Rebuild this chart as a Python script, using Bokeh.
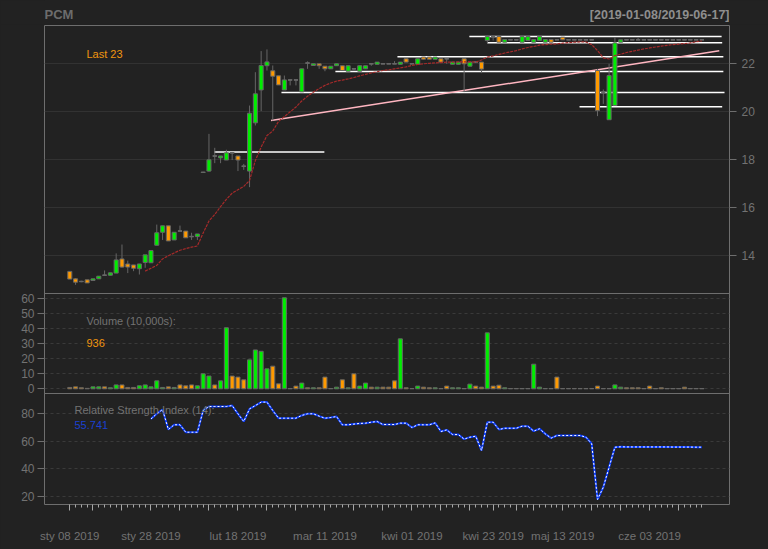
from bokeh.plotting import figure
from bokeh.models import Range1d, FixedTicker, Label, LinearAxis, Grid, ColumnDataSource, Span
from bokeh.layouts import column
from bokeh.embed import file_html
from bokeh.resources import INLINE

# ---------------- data ----------------
symbol = "PCM"
date_range = "[2019-01-08/2019-06-17]"

opens = [13.35, 13.04, 12.93, 13.00, 12.97, 13.04, 13.19, 13.19, 13.28, 13.87,
         13.66, 13.62, 13.46, 13.72, 13.71, 14.44, 14.98, 15.25, 14.66, 15.03,
         15.03, 14.80, 14.80, 17.47, 17.53, 18.16, 18.08, 17.99, 18.29, 18.16,
         17.73, 17.53, 19.54, 20.91, 21.92, 21.71, 21.50, 20.91, 21.33, 21.33,
         20.83, 22.03, 21.93, 22.00, 21.90, 21.79, 21.92, 21.92, 21.69, 21.79,
         21.69, 21.79, 22.00, 21.98, 22.00, 22.00, 22.00, 21.98, 22.21, 22.00,
         21.98, 22.28, 22.28, 22.19, 22.21, 22.21, 21.98, 21.98, 22.21, 21.90,
         22.07, 22.07, 22.97, 23.14, 23.14, 22.90, 23.00, 23.00, 22.90, 22.97,
         22.90, 22.97, 22.90, 23.01, 23.00, 23.11, 23.00, 23.00, 23.00, 23.00,
         23.00, 21.72, 20.82, 19.67, 20.26, 22.90, 23.00, 23.00, 23.00, 23.00,
         23.00, 23.00, 23.00, 23.00, 23.00, 23.00, 23.00, 23.00, 23.00, 23.00]
highs = [13.35, 13.07, 12.96, 13.00, 13.04, 13.15, 13.39, 13.29, 14.10, 14.47,
         13.80, 13.62, 13.66, 14.04, 14.22, 15.30, 15.25, 15.25, 14.98, 15.26,
         15.03, 14.96, 14.91, 17.50, 19.08, 18.50, 18.16, 18.42, 18.29, 18.16,
         17.83, 20.26, 21.65, 22.53, 22.60, 21.93, 21.50, 21.51, 21.33, 21.33,
         21.79, 22.10, 22.00, 22.00, 21.90, 21.90, 22.00, 21.92, 21.92, 21.79,
         21.92, 21.92, 22.00, 22.07, 22.00, 22.00, 22.11, 22.07, 22.21, 22.00,
         22.21, 22.28, 22.28, 22.28, 22.21, 22.21, 22.07, 22.07, 22.21, 22.07,
         22.07, 22.07, 23.18, 23.18, 23.14, 23.01, 23.00, 23.00, 23.14, 23.14,
         23.01, 23.14, 23.01, 23.01, 23.00, 23.11, 23.00, 23.00, 23.00, 23.00,
         23.00, 21.79, 20.93, 22.00, 23.11, 23.00, 23.00, 23.00, 23.08, 23.00,
         23.00, 23.00, 23.00, 23.00, 23.00, 23.00, 23.00, 23.00, 23.00, 23.00]
lows = [13.03, 12.79, 12.90, 12.87, 12.97, 13.04, 13.19, 13.19, 13.28, 13.50,
        13.28, 13.36, 13.22, 13.50, 13.71, 14.44, 14.66, 14.62, 14.66, 15.03,
        14.75, 14.66, 14.66, 17.45, 17.50, 17.86, 17.86, 17.99, 17.99, 17.53,
        17.58, 16.86, 19.43, 20.03, 21.72, 19.64, 21.12, 20.91, 21.10, 21.10,
        20.83, 21.79, 21.93, 21.79, 21.69, 21.79, 21.92, 21.72, 21.69, 21.72,
        21.69, 21.79, 21.92, 21.98, 22.00, 22.00, 22.00, 21.98, 22.07, 22.00,
        21.98, 22.19, 22.19, 22.19, 22.07, 22.00, 21.98, 21.98, 20.82, 21.90,
        22.07, 21.61, 22.87, 22.97, 22.90, 22.90, 23.00, 23.00, 22.90, 22.97,
        22.90, 22.97, 22.90, 22.90, 23.00, 23.00, 23.00, 23.00, 23.00, 23.00,
        23.00, 19.82, 20.33, 19.67, 20.26, 22.90, 23.00, 23.00, 23.00, 23.00,
        23.00, 23.00, 23.00, 23.00, 23.00, 23.00, 23.00, 23.00, 23.00, 23.00]
closes = [13.03, 12.90, 12.93, 12.87, 13.04, 13.15, 13.19, 13.29, 13.83, 13.53,
          13.53, 13.48, 13.66, 14.04, 14.22, 14.96, 15.25, 14.62, 14.98, 15.03,
          14.75, 14.80, 14.91, 17.49, 18.00, 18.16, 18.16, 18.29, 18.29, 17.99,
          17.73, 19.94, 20.75, 21.93, 22.08, 21.48, 21.12, 21.33, 21.33, 21.33,
          21.79, 22.03, 22.00, 21.92, 21.79, 21.90, 22.00, 21.72, 21.92, 21.79,
          21.92, 21.92, 22.00, 22.07, 22.00, 22.00, 22.00, 22.07, 22.07, 22.00,
          22.21, 22.19, 22.19, 22.28, 22.07, 22.21, 22.07, 22.07, 22.00, 22.07,
          22.07, 21.78, 23.14, 23.14, 22.90, 23.01, 23.00, 23.00, 23.14, 23.14,
          23.01, 23.14, 23.01, 22.90, 23.00, 23.00, 23.00, 23.00, 23.00, 23.00,
          23.00, 20.05, 20.82, 21.51, 22.87, 23.00, 23.00, 23.00, 23.00, 23.00,
          23.00, 23.00, 23.00, 23.00, 23.00, 23.00, 23.00, 23.00, 23.00, 23.00]
# volume in units of 10,000
volume = [0.9, 1.3, 0.7, 0.3, 1.3, 1.3, 1.3, 0.7, 2.6, 2.6,
          0.9, 0.9, 2.0, 2.6, 1.3, 5.3, 0.9, 1.3, 0.9, 2.6,
          2.0, 2.6, 2.0, 10.0, 8.5, 2.6, 5.3, 40.7, 8.5, 7.8,
          6.0, 19.3, 25.9, 25.0, 13.3, 15.1, 3.3, 60.7, 0.2, 1.8,
          3.8, 0.7, 0.7, 0.7, 7.8, 0.2, 1.1, 6.0, 0.7, 10.0,
          1.8, 3.8, 1.1, 1.1, 1.1, 1.1, 5.3, 33.3, 0.7, 0.2,
          1.8, 1.1, 0.7, 0.7, 0.2, 1.8, 0.7, 0.7, 0.2, 3.1,
          1.8, 1.1, 37.3, 1.8, 2.4, 0.7, 0.2, 0.2, 0.2, 0.2,
          16.4, 1.1, 0.2, 0.2, 7.8, 0.2, 0.2, 0.2, 0.2, 0.2,
          0.2, 1.8, 0.2, 0.2, 2.6, 1.1, 0.7, 0.7, 0.7, 0.2,
          1.8, 0.2, 0.7, 0.2, 0.2, 0.2, 1.1, 0.2, 0.2, 0.2]
# moving average (starts at bar 13)
ma_start = 13
ma_values = [13.36, 13.48, 13.60, 13.87, 14.00, 14.12, 14.23, 14.30, 14.36, 14.41,
             14.95, 15.45, 15.72, 16.05, 16.35, 16.61, 16.75, 16.89, 17.14, 17.97,
             18.53, 19.01, 19.20, 19.60, 19.80, 20.00, 20.20, 20.45, 20.65, 20.82,
             20.97, 21.10, 21.20, 21.28, 21.32, 21.37, 21.43, 21.50, 21.56, 21.62,
             21.67, 21.72, 21.75, 21.79, 21.83, 21.87, 21.93, 21.97, 22.00, 22.02,
             22.04, 22.05, 22.07, 22.07, 22.08, 22.08, 22.08, 22.07, 22.16, 22.28,
             22.33, 22.39, 22.45, 22.50, 22.55, 22.62, 22.68, 22.72, 22.78, 22.80,
             22.82, 22.83, 22.86, 22.88, 22.90, 22.91, 22.91, 22.80, 22.55, 22.25,
             22.20, 22.34, 22.40, 22.47, 22.52, 22.57, 22.62, 22.66, 22.70, 22.74,
             22.77, 22.80, 22.82, 22.84, 22.87, 22.92, 22.95]
# RSI(14) (starts at bar 14)
rsi_start = 14
rsi_values = [76.3, 80.0, 83.1, 68.6, 72.0, 72.0, 66.6, 66.6, 66.6, 82.4,
              85.3, 85.3, 85.3, 85.3, 86.0, 80.0, 74.4, 83.6, 86.0, 88.5,
              88.5, 82.4, 76.8, 76.8, 76.8, 76.8, 78.8, 80.0, 80.0, 78.3,
              76.8, 77.3, 78.0, 72.0, 72.0, 72.5, 73.0, 73.2, 73.9, 74.4,
              72.2, 72.2, 72.2, 73.2, 73.2, 70.0, 72.0, 72.0, 72.0, 73.4,
              67.1, 68.3, 64.9, 64.9, 61.6, 63.0, 63.7, 53.3, 73.9, 73.9,
              68.6, 69.5, 69.5, 69.5, 71.0, 71.0, 67.4, 69.1, 65.4, 62.3,
              64.2, 64.2, 64.2, 64.2, 64.2, 63.0, 58.2, 17.7, 26.6, 41.2,
              55.7, 56.0, 55.9, 55.9, 55.9, 55.9, 55.9, 55.9, 55.9, 55.9,
              55.8, 55.8, 55.8, 55.8, 55.74, 55.74]
# drawn trend line (bar index, price) and horizontal levels (from bar, to bar, price)
trend_x = [34.7, 112.0]
trend_y = [19.64, 22.54]
level_from = [24.9, 36.5, 45.8, 56.5, 68.9, 72.0, 87.9]
level_to = [43.9, 112.9, 112.7, 112.7, 112.4, 112.5, 112.5]
level_price = [18.33, 20.80, 21.68, 22.29, 23.14, 22.875, 20.21]
# x axis
tick_idx = [0, 14, 29, 44, 59, 73, 85, 100]
tick_labels = ["sty 08 2019", "sty 28 2019", "lut 18 2019", "mar 11 2019",
               "kwi 01 2019", "kwi 23 2019", "maj 13 2019", "cze 03 2019"]
week_starts = [0, 4, 9, 14, 19, 24, 29, 34, 39, 44, 49, 54, 59, 64, 69, 73, 77,
               80, 85, 90, 95, 100, 105]
price_ticks = [14, 16, 18, 20, 22]
vol_ticks = [0, 10, 20, 30, 40, 50, 60]
rsi_ticks = [20, 40, 60, 80]
last_close_text = "Last 23"
last_volume_text = "936"
last_rsi_text = "55.741"

# ---------------- layout (pixels, page coordinates) ----------------
W, H = 768, 549
HEAD = 24
FL, FR, FT, FB = 44, 729, 25, 504          # plotting frame
SEP1, SEP2 = 293, 393                       # panel separators
PRICE_REF_PX, PRICE_REF, PRICE_PPU = 63.3, 22.0, 24.0
VOL_REF_PX, VOL_PPU = 388.3, 1.5
RSI_REF_PX, RSI_REF, RSI_PPU = 413.3, 80.0, 1.375

BG = "#222222"
FRAME = "#6e6e6e"
TXT = "#727272"
UP = "#00EE00"
DN = "#FF9A00"
WICK = "#666666"
ORANGE_TXT = "#F0960F"
FONT = "Liberation Sans"
BGSTYLE = {"background-color": BG}

n = len(closes)
idx = list(range(n))
x_range = Range1d(-4.36, 113.76)


def px_to(ref_px, ref_val, ppu, px):
    return ref_val - (px - ref_px) / ppu


price_range = Range1d(px_to(PRICE_REF_PX, PRICE_REF, PRICE_PPU, FB),
                      px_to(PRICE_REF_PX, PRICE_REF, PRICE_PPU, FT))
vol_range = Range1d(px_to(VOL_REF_PX, 0.0, VOL_PPU, FB),
                    px_to(VOL_REF_PX, 0.0, VOL_PPU, FT))
rsi_range = Range1d(px_to(RSI_REF_PX, RSI_REF, RSI_PPU, FB),
                    px_to(RSI_REF_PX, RSI_REF, RSI_PPU, FT))

# ---------- header (same horizontal geometry as the chart) ----------
head = figure(frame_width=FR - FL, frame_height=HEAD, x_range=Range1d(0, 1),
              y_range=Range1d(0, 1),
              min_border_left=FL, min_border_right=W - FR,
              min_border_top=0, min_border_bottom=0,
              output_backend="svg", toolbar_location=None,
              background_fill_color=BG, border_fill_color=BG,
              outline_line_color=None, x_axis_location=None, y_axis_location=None,
              styles=BGSTYLE)
head.grid.visible = False
head.add_layout(Label(x=0, y=HEAD - 14, x_units="screen", y_units="screen", text=symbol,
                      text_color="#6c6c6c", text_font=FONT, text_font_size="13px",
                      text_font_style="bold", text_align="left", text_baseline="middle"))
head.add_layout(Label(x=FR - FL, y=HEAD - 14, x_units="screen", y_units="screen",
                      text=date_range, text_color="#8e8e8e", text_font=FONT,
                      text_font_size="12.5px", text_font_style="bold",
                      text_align="right", text_baseline="middle"))

# ---------- main chart ----------
p = figure(frame_width=FR - FL, frame_height=FB - FT, x_range=x_range, y_range=price_range,
           min_border_left=FL, min_border_right=W - FR,
           min_border_top=FT - HEAD, min_border_bottom=H - FB,
           output_backend="svg", toolbar_location=None,
           background_fill_color=BG, border_fill_color=BG,
           outline_line_color=FRAME, outline_line_width=1,
           x_axis_location=None, y_axis_location=None, styles=BGSTYLE)
p.grid.visible = False
p.extra_y_ranges = {"vol": vol_range, "rsi": rsi_range}

# grids
p.add_layout(Grid(dimension=1, ticker=FixedTicker(ticks=price_ticks),
                  grid_line_color="#323232", grid_line_width=1))
p.add_layout(Grid(dimension=1, y_range_name="vol", ticker=FixedTicker(ticks=vol_ticks),
                  grid_line_color="#3a3a3a", grid_line_dash="3 3"))
p.add_layout(Grid(dimension=1, y_range_name="rsi", ticker=FixedTicker(ticks=rsi_ticks),
                  grid_line_color="#3a3a3a", grid_line_dash="3 3"))

# panel separators
for sep in (SEP1, SEP2):
    p.add_layout(Span(location=px_to(PRICE_REF_PX, PRICE_REF, PRICE_PPU, sep),
                      dimension="width", line_color=FRAME, line_width=1))

# price axis (right)
ax_r = LinearAxis(ticker=FixedTicker(ticks=price_ticks))
ax_r.axis_line_color = None
ax_r.major_tick_line_color = FRAME
ax_r.major_tick_out = 7
ax_r.major_tick_in = 0
ax_r.minor_tick_line_color = None
ax_r.major_label_text_color = TXT
ax_r.major_label_text_font = FONT
ax_r.major_label_text_font_size = "12px"
ax_r.major_label_standoff = 5
p.add_layout(ax_r, "right")


# left axis: volume ticks plus RSI ticks expressed on the volume scale
def rsi_on_vol(r):
    frac = (r - rsi_range.start) / (rsi_range.end - rsi_range.start)
    return round(vol_range.start + frac * (vol_range.end - vol_range.start), 6)


left_ticks = [float(v) for v in vol_ticks] + [rsi_on_vol(r) for r in rsi_ticks]
left_over = {float(v): str(v) for v in vol_ticks}
left_over.update({rsi_on_vol(r): str(r) for r in rsi_ticks})
ax_l = LinearAxis(y_range_name="vol", ticker=FixedTicker(ticks=left_ticks))
ax_l.major_label_overrides = left_over
ax_l.axis_line_color = None
ax_l.major_tick_line_color = FRAME
ax_l.major_tick_out = 7
ax_l.major_tick_in = 0
ax_l.minor_tick_line_color = None
ax_l.major_label_text_color = TXT
ax_l.major_label_text_font = FONT
ax_l.major_label_text_font_size = "12px"
ax_l.major_label_standoff = 3
p.add_layout(ax_l, "left")

# date axis (below)
minor = [i for i in idx if i not in week_starts]
xax = LinearAxis(ticker=FixedTicker(ticks=week_starts, minor_ticks=minor))
over = {i: "" for i in week_starts}
over.update({i: t for i, t in zip(tick_idx, tick_labels)})
xax.major_label_overrides = over
xax.axis_line_color = None
xax.major_tick_line_color = "#a8a8a8"
xax.minor_tick_line_color = "#a8a8a8"
xax.major_tick_out = 6
xax.major_tick_in = 0
xax.minor_tick_out = 3
xax.minor_tick_in = 0
xax.major_label_text_color = TXT
xax.major_label_text_font = FONT
xax.major_label_text_font_size = "11.5px"
xax.major_label_standoff = 19
p.add_layout(xax, "below")

# ---------- price marks ----------
up = [c > o for o, c in zip(opens, closes)]
flat = [c == o for o, c in zip(opens, closes)]
src = ColumnDataSource(dict(x=idx, h=highs, l=lows,
                            top=[max(o, c) for o, c in zip(opens, closes)],
                            bot=[min(o, c) for o, c in zip(opens, closes)],
                            col=[UP if u else (WICK if f else DN) for u, f in zip(up, flat)],
                            vcol=[UP if u else DN for u in up], v=volume))

p.segment(x0=level_from, x1=level_to, y0=level_price, y1=level_price,
          line_color="white", line_width=1.5)
p.line(trend_x, trend_y, line_color="#FFB6C1", line_width=1.5)

p.segment(x0="x", x1="x", y0="l", y1="h", source=src, line_color=WICK, line_width=1)
p.vbar(x="x", top="top", bottom="bot", width=0.7, source=src,
       fill_color="col", line_color=WICK, line_width=1)
dx = [i for i in idx if flat[i]]
p.segment(x0=[i - 0.35 for i in dx], x1=[i + 0.35 for i in dx],
          y0=[opens[i] for i in dx], y1=[opens[i] for i in dx],
          line_color=WICK, line_width=1.5)

ma_x = list(range(ma_start, ma_start + len(ma_values)))
p.line(ma_x, ma_values, line_color="#A52A2A", line_width=1.2, line_dash="3 1")

# ---------- volume ----------
p.vbar(x="x", top="v", bottom=0, width=0.7, source=src, y_range_name="vol",
       fill_color="vcol", line_color=WICK, line_width=1)

# ---------- RSI ----------
rsi_x = list(range(rsi_start, rsi_start + len(rsi_values)))
p.line(rsi_x, rsi_values, y_range_name="rsi", line_color="#0a3cff", line_width=2)
p.line(rsi_x, rsi_values, y_range_name="rsi", line_color="white", line_width=1,
       line_dash="2 2")


# ---------- panel texts ----------
def add_label(x_px, y_px, text, color):
    p.add_layout(Label(x=x_px - FL, y=FB - y_px, x_units="screen", y_units="screen",
                       text=text, text_color=color, text_font=FONT,
                       text_font_size="11px", text_align="left", text_baseline="middle"))


add_label(86, 53, last_close_text, ORANGE_TXT)
add_label(86, 320.5, "Volume (10,000s):", TXT)
add_label(86, 342.5, last_volume_text, ORANGE_TXT)
add_label(74, 409.5, "Relative Strength Index (14):", TXT)
add_label(74, 424, last_rsi_text, "#1a40d0")

layout = column(head, p, spacing=0, styles=BGSTYLE)
open("out.html", "w").write(file_html(layout, INLINE))
